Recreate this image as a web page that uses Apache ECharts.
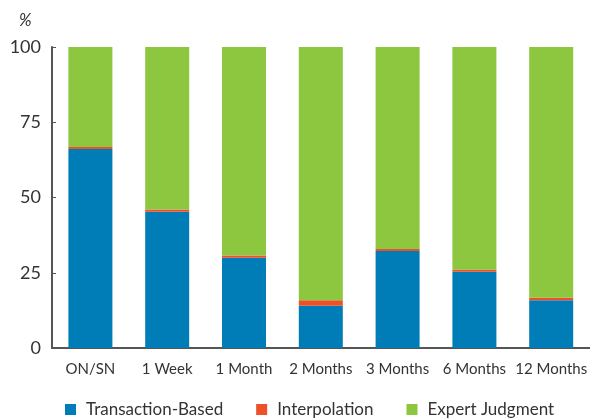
<!DOCTYPE html>
<html>
<head>
  <meta charset="utf-8">
  <title>Stacked columns</title>
</head>
<body style="margin: 0">
  <div id="chart_div" style="width: 590px; height: 419px;"></div>
  <script src="https://cdn.jsdelivr.net/npm/echarts@6/dist/echarts.min.js"></script>
  <script>
    var categories = ['ON/SN', '1 Week', '1 Month', '2 Months', '3 Months', '6 Months', '12 Months'];
    var transaction = [66.1, 45.3, 30.0, 14.0, 32.2, 25.3, 15.9];
    var interpolation = [0.7, 0.7, 0.7, 1.9, 0.7, 0.7, 0.8];
    var expert = [33.2, 54.0, 69.3, 84.1, 67.1, 74.0, 83.3];
    var yTicks = [0, 25, 50, 75, 100];

    var font = 'Lato';
    var myChart = echarts.init(document.getElementById('chart_div'), null, { renderer: 'canvas' });

    function bar(name, data, color) {
      return {
        name: name,
        type: 'bar',
        stack: 'all',
        barWidth: 44,
        data: data,
        itemStyle: { color: color },
        emphasis: { disabled: true }
      };
    }

    var option = {
      backgroundColor: '#fff',
      animation: false,
      textStyle: { fontFamily: font },
      grid: { left: 52, right: -2, top: 47, bottom: 71 },
      graphic: [{
        type: 'text', left: 19, top: 12,
        style: { text: '%', font: 'italic 17px ' + font, fill: '#333' }
      }],
      legend: {
        left: 65, top: 401, padding: 0,
        icon: 'rect', itemWidth: 11, itemHeight: 11, itemGap: 33,
        textStyle: { fontSize: 17, color: '#333', fontFamily: font, padding: [0, 0, 0, 5] },
        data: ['Transaction-Based', 'Interpolation', 'Expert Judgment']
      },
      xAxis: {
        type: 'category',
        data: categories,
        axisLine: { lineStyle: { color: '#555', width: 2 } },
        axisTick: { show: false },
        axisLabel: { color: '#333', fontSize: 15, margin: 14, interval: 0 }
      },
      yAxis: {
        type: 'value',
        min: 0, max: 100, interval: 25,
        axisLine: { show: true, lineStyle: { color: '#555', width: 2 } },
        axisTick: { show: true, inside: true, length: 4, lineStyle: { color: '#555' } },
        splitLine: { show: false },
        axisLabel: {
          color: '#333', fontSize: 18, margin: 11,
          formatter: function (v) { return yTicks.indexOf(v) >= 0 ? String(v) : ''; }
        }
      },
      series: [
        bar('Transaction-Based', transaction, '#007db7'),
        bar('Interpolation', interpolation, '#ec512a'),
        bar('Expert Judgment', expert, '#8dc63f')
      ]
    };
    myChart.setOption(option);
  </script>
</body>
</html>
